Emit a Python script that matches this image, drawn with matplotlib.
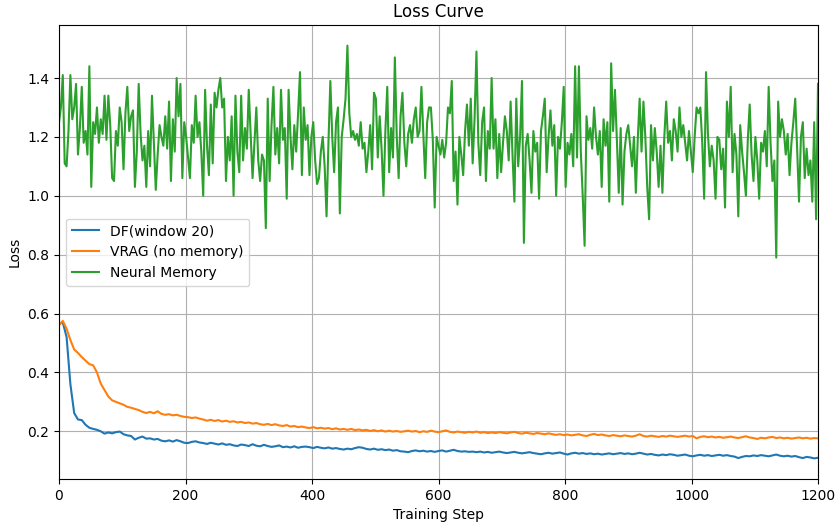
import numpy as np
import matplotlib
matplotlib.use("Agg")
import matplotlib.pyplot as plt

# DF(window 20) loss, sampled every 6 steps
df_loss = [
    0.565, 0.570, 0.520, 0.360, 0.262, 0.240, 0.238, 0.222, 0.212, 0.208,
    0.205, 0.200, 0.192, 0.196, 0.193, 0.197, 0.199, 0.190, 0.186, 0.184,
    0.172, 0.178, 0.182, 0.175, 0.176, 0.172, 0.174, 0.168, 0.166, 0.169,
    0.165, 0.170, 0.166, 0.161, 0.160, 0.164, 0.166, 0.162, 0.160, 0.157,
    0.161, 0.158, 0.155, 0.159, 0.154, 0.156, 0.152, 0.150, 0.155, 0.153,
    0.150, 0.156, 0.151, 0.149, 0.154, 0.150, 0.147, 0.149, 0.152, 0.146,
    0.148, 0.145, 0.149, 0.144, 0.147, 0.148, 0.146, 0.143, 0.147, 0.144,
    0.142, 0.145, 0.141, 0.143, 0.140, 0.138, 0.141, 0.139, 0.143, 0.146,
    0.144, 0.140, 0.138, 0.141, 0.137, 0.139, 0.136, 0.138, 0.134, 0.136,
    0.132, 0.131, 0.129, 0.133, 0.135, 0.132, 0.134, 0.131, 0.133, 0.130,
    0.133, 0.135, 0.131, 0.134, 0.137, 0.133, 0.131, 0.132, 0.130, 0.131,
    0.129, 0.131, 0.128, 0.130, 0.127, 0.129, 0.131, 0.128, 0.126, 0.128,
    0.130, 0.127, 0.125, 0.127, 0.129, 0.126, 0.124, 0.122, 0.125, 0.127,
    0.124, 0.126, 0.128, 0.124, 0.121, 0.125, 0.127, 0.124, 0.126, 0.123,
    0.125, 0.122, 0.124, 0.121, 0.123, 0.125, 0.122, 0.124, 0.126, 0.123,
    0.125, 0.122, 0.124, 0.127, 0.124, 0.121, 0.123, 0.120, 0.118, 0.121,
    0.119, 0.122, 0.120, 0.117, 0.119, 0.121, 0.117, 0.115, 0.118, 0.120,
    0.117, 0.119, 0.116, 0.118, 0.120, 0.117, 0.119, 0.116, 0.114, 0.109,
    0.113, 0.116, 0.115, 0.118, 0.116, 0.119, 0.117, 0.115, 0.118, 0.121,
    0.117, 0.115, 0.117, 0.114, 0.116, 0.112, 0.109, 0.113, 0.111, 0.108,
    0.110,
]

# VRAG (no memory) loss, sampled every 6 steps
vrag_loss = [
    0.560, 0.575, 0.548, 0.510, 0.478, 0.466, 0.452, 0.440, 0.428, 0.424,
    0.400, 0.362, 0.340, 0.318, 0.305, 0.300, 0.295, 0.290, 0.283, 0.280,
    0.276, 0.272, 0.266, 0.262, 0.266, 0.261, 0.268, 0.259, 0.256, 0.258,
    0.254, 0.256, 0.252, 0.249, 0.248, 0.245, 0.247, 0.243, 0.240, 0.236,
    0.239, 0.235, 0.238, 0.233, 0.236, 0.232, 0.234, 0.230, 0.232, 0.228,
    0.230, 0.226, 0.228, 0.224, 0.222, 0.225, 0.221, 0.224, 0.220, 0.218,
    0.221, 0.216, 0.218, 0.214, 0.216, 0.213, 0.211, 0.214, 0.210, 0.212,
    0.209, 0.211, 0.207, 0.210, 0.206, 0.208, 0.205, 0.208, 0.204, 0.206,
    0.203, 0.205, 0.201, 0.204, 0.200, 0.203, 0.199, 0.202, 0.199, 0.201,
    0.198, 0.200, 0.202, 0.199, 0.201, 0.197, 0.200, 0.198, 0.202, 0.199,
    0.197, 0.200, 0.203, 0.198, 0.196, 0.199, 0.197, 0.195, 0.198, 0.196,
    0.199, 0.195, 0.197, 0.194, 0.196, 0.194, 0.197, 0.195, 0.193, 0.196,
    0.198, 0.194, 0.192, 0.195, 0.193, 0.191, 0.194, 0.192, 0.190, 0.193,
    0.190, 0.188, 0.190, 0.187, 0.189, 0.186, 0.188, 0.190, 0.186, 0.184,
    0.188, 0.191, 0.187, 0.189, 0.186, 0.184, 0.187, 0.185, 0.183, 0.186,
    0.184, 0.182, 0.185, 0.190, 0.184, 0.182, 0.185, 0.183, 0.181, 0.184,
    0.182, 0.185, 0.183, 0.181, 0.183, 0.185, 0.182, 0.184, 0.176, 0.181,
    0.183, 0.180, 0.182, 0.179, 0.181, 0.178, 0.180, 0.182, 0.179, 0.177,
    0.180, 0.183, 0.179, 0.177, 0.174, 0.178, 0.176, 0.179, 0.181, 0.177,
    0.179, 0.176, 0.178, 0.175, 0.177, 0.179, 0.176, 0.178, 0.175, 0.177,
    0.176,
]

# Neural Memory loss, sampled every 3 steps
nm_loss = [
    1.25, 1.30, 1.41, 1.11, 1.10, 1.22, 1.41, 1.26, 1.30, 1.38,
    1.14, 1.23, 1.37, 1.18, 1.22, 1.14, 1.44, 1.03, 1.25, 1.21,
    1.30, 1.18, 1.26, 1.21, 1.34, 1.19, 1.34, 1.24, 1.06, 1.05,
    1.22, 1.17, 1.30, 1.25, 1.09, 1.28, 1.37, 1.22, 1.27, 1.29,
    1.03, 1.15, 1.38, 1.21, 1.12, 1.17, 1.03, 1.22, 1.10, 1.34,
    1.18, 1.02, 1.14, 1.24, 1.20, 1.17, 1.27, 1.16, 1.32, 1.05,
    1.26, 1.15, 1.40, 1.27, 1.38, 1.06, 1.25, 1.20, 1.13, 1.06,
    1.24, 1.18, 1.34, 1.20, 1.25, 1.15, 1.00, 1.36, 1.17, 1.07,
    1.31, 1.11, 1.35, 1.30, 1.36, 1.40, 1.30, 1.33, 1.05, 1.20,
    1.12, 1.27, 1.00, 1.34, 1.15, 1.08, 1.34, 1.12, 1.23, 1.16,
    1.36, 1.21, 1.06, 1.18, 1.30, 1.12, 1.05, 1.14, 1.12, 0.89,
    1.33, 1.05, 1.24, 1.37, 1.14, 1.23, 1.11, 1.36, 1.19, 1.23,
    0.99, 1.36, 1.20, 1.09, 1.24, 1.15, 1.28, 1.42, 1.07, 1.30,
    1.19, 1.24, 1.07, 1.20, 1.25, 1.12, 1.04, 1.06, 1.15, 1.20,
    1.10, 0.93, 1.18, 1.39, 1.20, 1.08, 1.25, 1.30, 0.94, 1.20,
    1.26, 1.33, 1.51, 1.28, 1.20, 1.22, 1.19, 1.21, 1.17, 1.25,
    1.16, 1.18, 1.08, 1.15, 1.24, 1.09, 1.35, 1.33, 1.13, 1.27,
    1.16, 1.00, 1.22, 1.37, 1.08, 1.23, 1.13, 1.47, 1.20, 1.06,
    1.27, 1.35, 1.18, 1.10, 1.21, 1.24, 1.18, 1.26, 1.30, 1.20,
    1.22, 1.37, 1.21, 1.06, 1.25, 1.30, 1.30, 1.19, 0.96, 1.20,
    1.17, 1.14, 1.19, 1.13, 1.18, 1.30, 1.28, 1.39, 1.05, 1.15,
    0.97, 1.20, 1.14, 1.07, 1.22, 1.31, 1.17, 1.33, 1.11, 1.26,
    1.49, 1.18, 1.07, 1.25, 1.30, 1.05, 1.22, 1.16, 1.40, 1.16,
    1.26, 1.06, 1.21, 1.08, 1.18, 1.27, 1.22, 1.12, 1.32, 1.14,
    0.98, 1.33, 1.10, 1.20, 1.39, 0.84, 1.17, 1.21, 1.12, 1.01,
    1.22, 1.15, 1.18, 0.99, 1.22, 1.27, 1.33, 1.08, 1.20, 1.29,
    1.17, 1.24, 1.00, 1.20, 1.16, 1.25, 1.37, 1.03, 1.18, 1.14,
    1.21, 1.10, 1.44, 1.13, 1.44, 1.15, 1.00, 0.83, 1.27, 1.19,
    1.23, 1.16, 1.30, 1.20, 1.14, 1.22, 1.03, 1.26, 1.17, 1.25,
    0.98, 1.45, 1.22, 1.36, 1.19, 1.01, 1.23, 0.97, 1.15, 1.21,
    1.24, 1.17, 1.10, 1.20, 1.01, 1.19, 1.33, 1.15, 1.32, 1.20,
    1.03, 0.92, 1.24, 1.12, 1.23, 1.15, 1.03, 1.17, 1.01, 1.20,
    1.32, 1.18, 1.22, 1.12, 1.26, 1.22, 1.15, 1.30, 1.20, 1.24,
    1.18, 1.12, 1.22, 1.15, 1.08, 1.20, 1.30, 1.28, 1.30, 1.18,
    0.99, 1.42, 1.21, 1.10, 1.17, 1.12, 0.99, 1.20, 1.19, 1.09,
    1.16, 0.96, 1.32, 1.20, 1.37, 1.08, 1.21, 1.14, 0.93, 1.24,
    1.15, 1.08, 1.00, 1.19, 1.31, 1.14, 1.05, 1.20, 1.12, 0.99,
    1.18, 1.15, 1.22, 1.10, 1.37, 1.18, 1.05, 1.12, 0.79, 1.32,
    1.20, 1.26, 1.22, 1.14, 1.21, 1.07, 1.18, 1.25, 1.33, 1.16,
    0.98, 1.20, 1.25, 1.06, 1.16, 1.07, 1.12, 0.98, 1.25, 0.92,
    1.38,
]

labels = ["DF(window 20)", "VRAG (no memory)", "Neural Memory"]
title = "Loss Curve"
x_label = "Training Step"
y_label = "Loss"

df_steps = np.linspace(0, 1200, len(df_loss))
vrag_steps = np.linspace(0, 1200, len(vrag_loss))
nm_steps = np.linspace(0, 1200, len(nm_loss))

fig = plt.figure(figsize=(8.35, 5.25), dpi=100)
ax = fig.add_axes([59 / 835, 1 - 479 / 525, (818 - 59) / 835, (479 - 25) / 525])

ax.plot(df_steps, df_loss, color="#1f77b4", lw=1.5, label=labels[0])
ax.plot(vrag_steps, vrag_loss, color="#ff7f0e", lw=1.5, label=labels[1])
ax.plot(nm_steps, nm_loss, color="#2ca02c", lw=1.5, label=labels[2])

ax.set_xlim(0, 1200)
ax.set_title(title, fontsize=12)
ax.set_xlabel(x_label)
ax.set_ylabel(y_label)
ax.grid(True)
ax.legend(loc="center left")

fig.savefig("out.png", dpi=100)
